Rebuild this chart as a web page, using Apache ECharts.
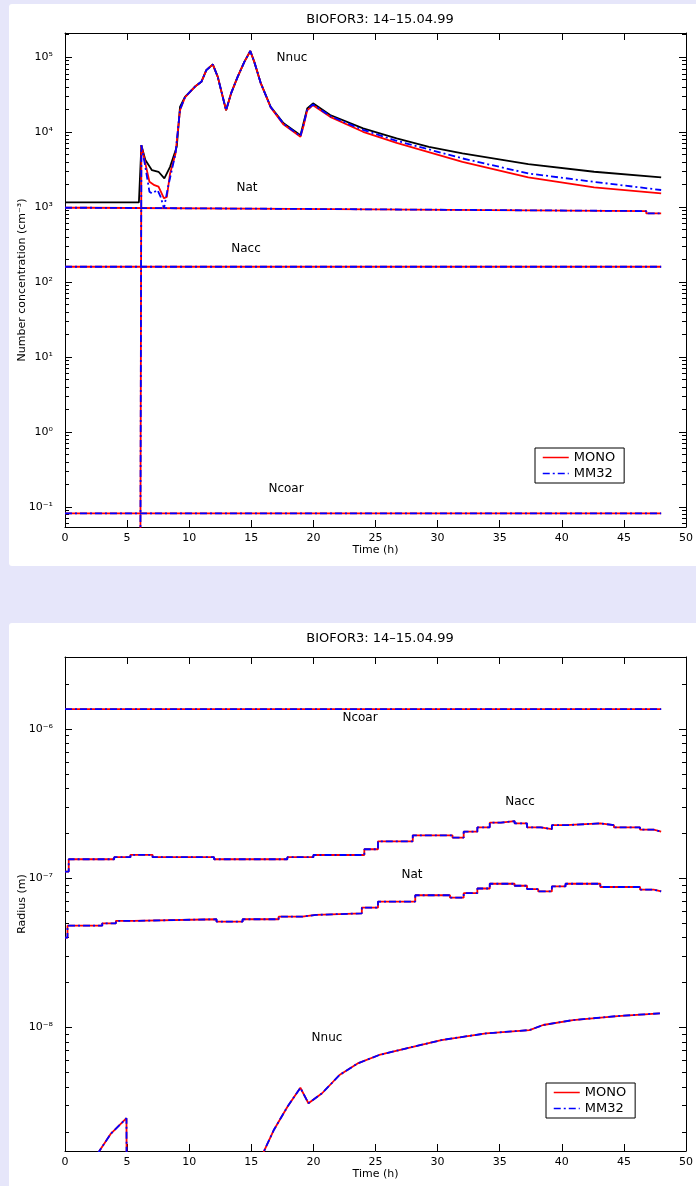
<!DOCTYPE html>
<html><head><meta charset="utf-8">
<script src="https://cdn.jsdelivr.net/npm/echarts@6/dist/echarts.min.js"></script>
<style>
html,body{margin:0;padding:0;background:#e6e6fa;overflow:hidden;}
.panel{position:absolute;left:9px;width:700px;background:#fff;border-radius:3px;}
#c{position:absolute;left:0;top:0;width:696px;height:1186px;}
</style>
</head><body>
<div class="panel" style="top:4px;height:562px"></div>
<div class="panel" style="top:623px;height:570px"></div>
<div id="c"></div>
<script>
// ---------- data ----------
const timeRange = [0, 50];
const concRange = [0.054, 2.1e5];          // number concentration axis (cm^-3)
const concTicks = [0.1, 1, 10, 100, 1e3, 1e4, 1e5];
const radiusRange = [1.49e-9, 3.03e-6];    // radius axis (m)
const radiusTicks = [1e-8, 1e-7, 1e-6];

// Panel 1: number concentration
const nucRef = [[0,1156],[5.95,1156],[6.15,6710],[6.47,4240],[7.0,3110],[7.53,2960],[8.0,2420],[8.46,3440],[9.0,6370],[9.26,21700],[9.66,29600],[10.45,40200],[10.98,46900],[11.38,67100],[11.9,80000],[12.3,54600],[12.97,19600],[13.37,32800],[13.9,54600],[14.44,86500],[14.92,121000],[15.24,86500],[15.77,44600],[16.56,21700],[17.6,13100],[18.96,9120],[19.2,13100],[19.5,20700],[19.97,24200],[21.35,16900],[24.0,11200],[26.7,8240],[29.3,6370],[32.0,5200],[37.3,3740],[42.6,2960],[48.0,2490]];
const nucMono = [[0,0.001],[6.05,0.001],[6.15,6710],[6.47,3830],[6.8,2170],[7.2,1960],[7.53,1870],[7.97,1310],[8.2,1370],[8.46,2810],[8.9,5200],[9.26,19600],[9.66,29000],[10.45,40200],[10.98,46900],[11.38,67100],[11.9,80000],[12.3,54600],[12.97,19600],[13.37,32800],[13.9,54600],[14.44,86500],[14.92,121000],[15.24,86500],[15.77,44600],[16.56,21400],[17.6,12600],[18.96,8650],[19.2,12000],[19.5,19500],[19.97,22900],[21.35,16000],[24.0,10100],[26.7,7190],[32.0,4020],[37.3,2490],[42.6,1830],[48.0,1520]];
const nucMm32 = [[0,0.001],[6.05,0.001],[6.15,6710],[6.47,3440],[6.8,1600],[7.0,1520],[7.45,1690],[7.7,1370],[7.97,960],[8.3,1870],[8.9,5200],[9.26,20000],[9.66,29300],[10.45,40200],[10.98,46900],[11.38,67100],[11.9,80000],[12.3,54600],[12.97,19600],[13.37,32800],[13.9,54600],[14.44,86500],[14.92,121000],[15.24,86500],[15.77,44600],[16.56,21600],[17.6,12900],[18.96,8850],[19.2,12500],[19.5,20000],[19.97,23400],[21.35,16400],[24.0,10700],[26.7,7660],[32.0,4460],[37.3,2810],[42.6,2170],[48.0,1690]];
const natN = [[0,980],[1.7,940],[21.5,885],[46.8,824],[48,824]];
const accN = [[0,160],[48,160]];
const coarN = [[0,0.082],[48,0.082]];

// Panel 2: radius
const coarR = [[0,1.355e-6],[48,1.355e-6]];
const accR = [[0,1.107e-7],[0.3,1.34e-7],[3.96,1.384e-7],[5.27,1.435e-7],[7.05,1.384e-7],[12.0,1.34e-7],[17.9,1.384e-7],[20.0,1.43e-7],[24.1,1.563e-7],[25.2,1.767e-7],[28.0,1.937e-7],[31.2,1.869e-7],[32.1,2.05e-7],[33.2,2.193e-7],[34.2,2.355e-7],[35.1,2.415e-7],[36.2,2.33e-7],[37.2,2.193e-7],[38.3,2.13e-7],[39.2,2.264e-7],[40.3,2.33e-7],[43.1,2.264e-7],[44.2,2.187e-7],[46.3,2.113e-7],[47.4,2.05e-7],[48,2.05e-7]];
const natR = [[0,4.0e-8],[0.2,4.81e-8],[3.0,4.99e-8],[4.1,5.18e-8],[5.5,5.31e-8],[12.2,5.12e-8],[14.3,5.31e-8],[17.2,5.53e-8],[19.1,5.68e-8],[20.2,5.82e-8],[23.9,6.35e-8],[25.2,6.97e-8],[28.2,7.69e-8],[31.0,7.41e-8],[32.1,7.94e-8],[33.2,8.53e-8],[34.2,9.18e-8],[36.2,8.9e-8],[37.2,8.46e-8],[38.1,8.16e-8],[39.2,8.81e-8],[40.3,9.18e-8],[43.1,8.73e-8],[46.3,8.38e-8],[47.4,8.16e-8],[48,8.16e-8]];
const nucR1 = [[2.6,1.42e-9],[3.7,1.95e-9],[4.95,2.47e-9],[5.0,1e-10]];
const nucR2 = [[15.7,1.3e-9],[16.8,2.05e-9],[17.9,2.94e-9],[18.95,3.95e-9],[19.6,3.11e-9],[20.7,3.63e-9],[22.1,4.81e-9],[23.56,5.75e-9],[25.3,6.55e-9],[27.5,7.26e-9],[30.3,8.24e-9],[33.9,9.14e-9],[37.4,9.62e-9],[38.5,1.04e-8],[40.9,1.122e-8],[44.5,1.194e-8],[47.9,1.245e-8]];

// ---------- helpers ----------
const FONT = 'DejaVu Sans';
const SUP = {'-':'\u207b','0':'\u2070','1':'\u00b9','2':'\u00b2','3':'\u00b3','4':'\u2074','5':'\u2075','6':'\u2076','7':'\u2077','8':'\u2078','9':'\u2079'};
const sup = n => String(n).split('').map(c => SUP[c]).join('');
const lg = pts => pts.map(([t, v]) => [t, Math.log10(v)]);
function minorValues(lo, hi) {
  const out = [];
  for (let d = Math.floor(lo); d <= Math.ceil(hi); d++)
    for (let k = 2; k <= 9; k++) { const v = d + Math.log10(k); if (v > lo && v < hi) out.push(v); }
  return out;
}
const black = {color:'#000', width:1};
function xAxesFor(gi) {
  const base = {type:'value', gridIndex:gi, min:timeRange[0], max:timeRange[1], interval:5, splitLine:{show:false}};
  return [
    {...base, position:'bottom', name:'Time (h)', nameLocation:'middle', nameGap:18, nameMoveOverlap:false,
     nameTextStyle:{fontFamily:FONT, fontSize:11, color:'#000'},
     axisLine:{show:true, onZero:false, lineStyle:black}, axisTick:{show:true, inside:true, length:7, lineStyle:black},
     axisLabel:{margin:6, fontFamily:FONT, fontSize:11, color:'#000'}},
    {...base, position:'top', axisLine:{show:true, onZero:false, lineStyle:black},
     axisTick:{show:true, inside:true, length:7, lineStyle:black}, axisLabel:{show:false}}
  ];
}
function yAxesFor(gi, range, ticks, name) {
  const lo = Math.log10(range[0]), hi = Math.log10(range[1]);
  const majors = ticks.map(Math.log10), minors = minorValues(lo, hi);
  const base = {type:'value', gridIndex:gi, min:lo, max:hi, splitLine:{show:false}};
  return [
    {...base, position:'left', name, nameLocation:'middle', nameGap:37, nameMoveOverlap:false,
     nameTextStyle:{fontFamily:FONT, fontSize:11, color:'#000'},
     axisLine:{show:true, onZero:false, lineStyle:black},
     axisTick:{show:true, inside:true, length:7, customValues:majors, lineStyle:black},
     axisLabel:{show:true, customValues:majors, margin:12, formatter:v => '10' + sup(Math.round(v)),
       fontFamily:FONT, fontSize:11, color:'#000'}},
    {...base, position:'left', axisLine:{show:false, onZero:false},
     axisTick:{show:true, inside:true, length:4, customValues:minors, lineStyle:black}, axisLabel:{show:false}},
    {...base, position:'right', axisLine:{show:true, onZero:false, lineStyle:black},
     axisTick:{show:true, inside:true, length:7, customValues:majors, lineStyle:black}, axisLabel:{show:false}},
    {...base, position:'right', axisLine:{show:false, onZero:false},
     axisTick:{show:true, inside:true, length:4, customValues:minors, lineStyle:black}, axisLabel:{show:false}}
  ];
}
const DASHDOT = [7, 3, 2, 3];
function ser(name, color, dash, gi, pts, step) {
  return {type:'line', name, xAxisIndex:gi*2, yAxisIndex:gi*4, data:lg(pts),
    showSymbol:false, symbol:'none', step:step || false, clip:true, silent:true,
    lineStyle:{color, width:1.8, type:dash}, itemStyle:{color}};
}
const RED = '#ff0000', BLUE = '#0000ff';
const series = [
  ser('ref', '#000', 'solid', 0, nucRef),
  ser('MONO', RED, 'solid', 0, nucMono), ser('MONO', RED, 'solid', 0, natN, 'end'),
  ser('MONO', RED, 'solid', 0, accN, 'end'), ser('MONO', RED, 'solid', 0, coarN, 'end'),
  ser('MM32', BLUE, DASHDOT, 0, nucMm32), ser('MM32', BLUE, DASHDOT, 0, natN, 'end'),
  ser('MM32', BLUE, DASHDOT, 0, accN, 'end'), ser('MM32', BLUE, DASHDOT, 0, coarN, 'end'),
  ser('MONO', RED, 'solid', 1, coarR, 'end'), ser('MONO', RED, 'solid', 1, accR, 'end'),
  ser('MONO', RED, 'solid', 1, natR, 'end'), ser('MONO', RED, 'solid', 1, nucR1), ser('MONO', RED, 'solid', 1, nucR2),
  ser('MM32', BLUE, DASHDOT, 1, coarR, 'end'), ser('MM32', BLUE, DASHDOT, 1, accR, 'end'),
  ser('MM32', BLUE, DASHDOT, 1, natR, 'end'), ser('MM32', BLUE, DASHDOT, 1, nucR1), ser('MM32', BLUE, DASHDOT, 1, nucR2)
];
function legendAt(left, top) {
  return {data:['MONO','MM32'], orient:'vertical', left, top, itemWidth:26, itemHeight:10, itemGap:3,
    padding:[3,9,3,7], borderColor:'#000', borderWidth:1, borderRadius:0, backgroundColor:'#fff',
    selectedMode:false, itemStyle:{opacity:0}, lineStyle:{width:1.5},
    textStyle:{fontFamily:FONT, fontSize:13, color:'#000'}};
}
function txt(text, x, y, size) {
  return {type:'text', x, y, z:100, style:{text, fill:'#000', font:(size || 12) + 'px "' + FONT + '"', textAlign:'center', textVerticalAlign:'middle'}};
}
const option = {
  animation:false,
  backgroundColor:'transparent',
  grid:[{left:65, top:33, width:626, height:494}, {left:65, top:657, width:626, height:494}],
  xAxis:[...xAxesFor(0), ...xAxesFor(1)],
  yAxis:[...yAxesFor(0, concRange, concTicks, 'Number concentration (cm\u207b\u00b3)'),
         ...yAxesFor(1, radiusRange, radiusTicks, 'Radius (m)')],
  legend:[legendAt(535, 448), legendAt(546, 1083)],
  series,
  graphic:[
    txt('BIOFOR3: 14\u201315.04.99', 380, 20, 13), txt('BIOFOR3: 14\u201315.04.99', 380, 639, 13),
    txt('Nnuc', 292, 58), txt('Nat', 247, 188), txt('Nacc', 246, 249), txt('Ncoar', 286, 489),
    txt('Ncoar', 360, 718), txt('Nacc', 520, 802), txt('Nat', 412, 875), txt('Nnuc', 327, 1038)
  ]
};
const chart = echarts.init(document.getElementById('c'), null, {renderer:'canvas'});
chart.setOption(option);
</script>
</body></html>
